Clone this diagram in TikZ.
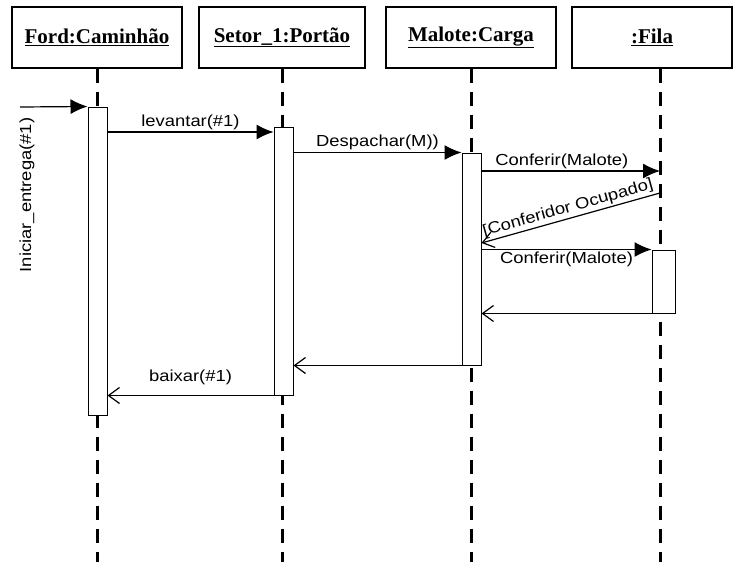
\documentclass[tikz,border=0pt]{standalone}
\usepackage{fontspec}
\setmainfont{Liberation Serif}
\newfontfamily\msgfont[FakeStretch=1.15]{Liberation Sans}
\usetikzlibrary{arrows.meta,calc}

\begin{document}
\begin{tikzpicture}[x=1pt, y=-1pt,
  head/.style={draw, line width=1.2pt, minimum width=170pt, minimum height=61pt, inner sep=0pt, font=\fontsize{21}{24}\selectfont\bfseries},
  bar/.style={draw, fill=white, line width=1pt, minimum width=19pt, inner sep=0pt},
  life/.style={line width=3pt, dash pattern=on 14pt off 9pt},
  msg/.style={font=\msgfont\fontsize{16}{18}\selectfont, inner sep=2pt},
  call/.style={line width=1.2pt, -{Latex[length=17pt,width=15pt]}},
  ret/.style={line width=1.2pt, -{Straight Barb[length=11pt,width=16pt]}}
]
  \useasboundingbox (0,0) rectangle (734,562);

  \node[head] (ford) at (97,37.5) {\underline{Ford:Caminhão}};
  \node[head, minimum width=166pt] (setor) at (282,37.5) {\underline{Setor\_1:Portão}};
  \node[head] (malote) at (471,37.5) {\underline{Malote:Carga}};
  \node[head, minimum width=160pt] (fila) at (652,37.5) {\underline{:Fila}};
  \coordinate (fl) at ([xshift=8pt]fila.south);

  \draw[life] (ford.south) -- (ford.south |- 0,562);
  \draw[life] (setor.south) -- (setor.south |- 0,562);
  \draw[life] (malote.south) -- (malote.south |- 0,562);
  \draw[life] (fl) -- (fl |- 0,562);

  \node[bar, minimum height=308pt] (a1) at (97.5,261) {};
  \node[bar, minimum height=268pt] (a2) at (283.5,261) {};
  \node[bar, minimum height=212pt] (a3) at (471.5,259) {};
  \node[bar, minimum width=23pt, minimum height=63pt] (a4) at (663.5,281.5) {};

  \coordinate (start) at (20,107);
  \draw[call] (start) -- (a1.north west);
  \node[msg, rotate=90] (ini) at (27,195) {Iniciar\_entrega(\#1)};

  \draw[call] (a1.east |- 0,132) -- node[msg, above] {levantar(\#1)} (a2.west |- 0,132);
  \draw[call] (a2.east |- a3.north) -- node[msg, above] {Despachar(M))} (a3.north west);
  \draw[call] (a3.east |- 0,171) -- node[msg, above, pos=0.45] {Conferir(Malote)} (fl |- 0,171);
  \draw[ret] (fl |- 0,193) -- node[msg, sloped, above] {[Conferidor Ocupado]} (a3.east |- 0,243);
  \draw[call] (a3.east |- a4.north) -- node[msg, below] {Conferir(Malote)} (a4.north west);
  \draw[ret] (a4.south west) -- (a3.east |- a4.south);
  \draw[ret] (a3.south west) -- (a2.east |- a3.south);
  \draw[ret] (a2.south west) -- node[msg, above=8pt] {baixar(\#1)} (a1.east |- a2.south);
\end{tikzpicture}
\end{document}
